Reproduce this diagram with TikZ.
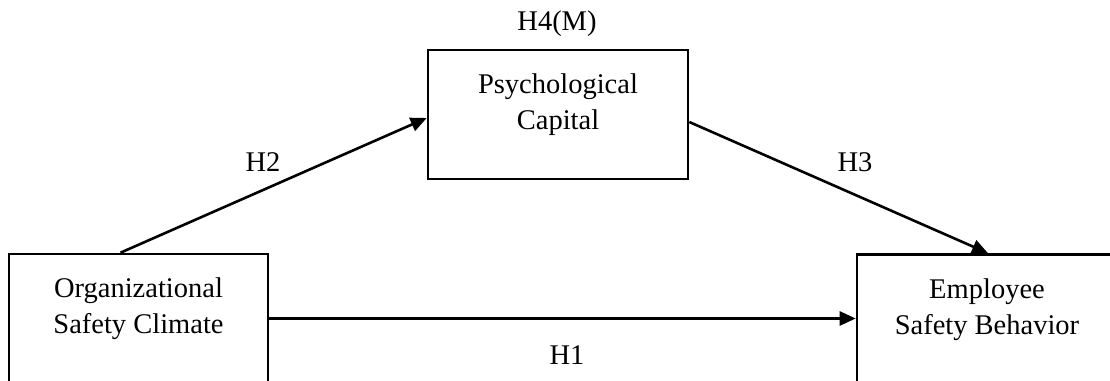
\documentclass[tikz,border=0pt]{standalone}
\usepackage{fontspec}
\setmainfont{Liberation Serif}
\usetikzlibrary{positioning,arrows.meta}
\tikzset{
  varbox/.style={draw,line width=2.6pt,minimum width=260pt,minimum height=129pt,inner sep=0pt},
  vartext/.style={align=center,inner sep=0pt,font=\fontsize{28.5}{36}\selectfont},
  hyplb/.style={inner sep=0pt,font=\fontsize{28.5}{36}\selectfont},
  hyparrow/.style={line width=2.6pt,-{Triangle[length=16pt,width=14pt]}}
}
\begin{document}
\begin{tikzpicture}[x=1pt,y=1pt]
\useasboundingbox (0,0) rectangle (1110,380);
\pgfmathsetmacro{\kdown}{25}
\node[varbox,minimum width=259pt](osc) at (138.5,61.5){};
\node[varbox](psy) at (558,265.5){};
\node[varbox](esb) at (987,61){};
\node[vartext,below=\kdown pt of osc.north](osctxt){Organizational\\Safety Climate};
\node[vartext,below=\kdown pt of psy.north](psytxt){Psychological\\Capital};
\node[vartext,below=\kdown pt of esb.north](esbtxt){Employee\\Safety Behavior};
%\draw[gray,dashed](psy.north west) rectangle (esb.south east);
\draw[hyparrow](osc.east)--(osc.east -| esb.west);
\draw[hyparrow]([xshift=-18pt]osc.north)--([yshift=-3.5pt]psy.west);
\draw[hyparrow]([yshift=-7.5pt]psy.east)--([xshift=1pt]esb.north);
\foreach \hx/\hy/\hlb/\hnm in {557/356/{H4(M)}/hfour,263/217.5/{H2}/htwo,855/217.5/{H3}/hthree,567/25/{H1}/hone}{\node[hyplb](\hnm) at (\hx,\hy){\hlb};}
\end{tikzpicture}
\end{document}
